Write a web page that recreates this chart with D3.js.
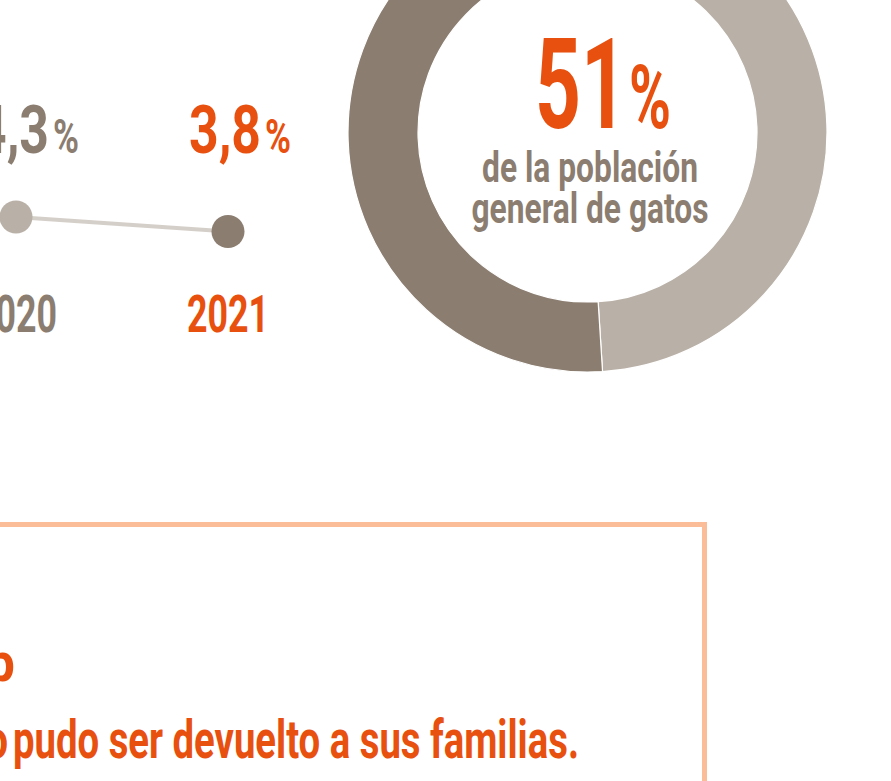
<!DOCTYPE html>
<html>
<head>
<meta charset="utf-8">
<script src="https://cdn.jsdelivr.net/npm/d3@7"></script>
<style>
  html, body { margin: 0; padding: 0; background: #fff; overflow: hidden; }
  svg { display: block; font-family: Roboto, "DejaVu Sans", sans-serif; }
</style>
</head>
<body>
<svg id="viewer" width="891" height="781"></svg>
<script>
// data
var years = [2020, 2021];
var rates = [4.3, 3.8];
var shareLabels = ['resto', 'gatos'];
var shareValues = [49, 51];
var headline = '51';
var subtitle = ['de la población', 'general de gatos'];
var boxLines = ['microchip', 'no', 'pudo ser devuelto a sus familias.'];

var orange = '#e8500f',
    dark = '#8b7d70',
    light = '#b9b0a7',
    lineGrey = '#d5cfc9';

var svg = d3.select('#viewer');

var fmt = d3.formatLocale({ decimal: ',', thousands: '.', grouping: [3], currency: ['', '€'] }).format('.1f');

// small line chart (left)

var scaleX = d3.scaleLinear().domain([2020, 2021]).range([16, 228]);
var scaleY = d3.scaleLinear().domain([3.8, 4.3]).range([231.5, 217]);

var points = years.map((d, i) => ({ year: d, rate: rates[i], last: i == years.length - 1 }));

svg.append('path')
    .datum(points)
    .attr('fill', 'none')
    .attr('stroke', lineGrey)
    .attr('stroke-width', 4)
    .attr('d', d3.line().x(d => scaleX(d.year)).y(d => scaleY(d.rate)));

svg.selectAll('circle.pt')
    .data(points)
    .enter()
    .append('circle')
    .attr('class', 'pt')
    .attr('cx', d => scaleX(d.year))
    .attr('cy', d => scaleY(d.rate))
    .attr('r', 16.5)
    .attr('fill', d => d.last ? dark : light);

// value labels
var vals = svg.selectAll('g.val')
    .data(points)
    .enter()
    .append('g')
    .attr('class', 'val')
    .attr('fill', d => d.last ? orange : dark)
    .attr('font-weight', 700);

vals.append('text')
    .attr('x', d => scaleX(d.year) + 33)
    .attr('y', 153)
    .attr('text-anchor', 'end')
    .attr('font-size', 67)
    .attr('textLength', 72)
    .attr('lengthAdjust', 'spacingAndGlyphs')
    .text(d => fmt(d.rate));

vals.append('text')
    .attr('x', d => scaleX(d.year) + 37)
    .attr('y', 153)
    .attr('font-size', 49)
    .attr('textLength', 26)
    .attr('lengthAdjust', 'spacingAndGlyphs')
    .text('%');

// year labels
svg.selectAll('text.year')
    .data(points)
    .enter()
    .append('text')
    .attr('class', 'year')
    .attr('x', d => scaleX(d.year))
    .attr('y', 332)
    .attr('text-anchor', 'middle')
    .attr('font-size', 52)
    .attr('font-weight', 700)
    .attr('textLength', 82)
    .attr('lengthAdjust', 'spacingAndGlyphs')
    .attr('fill', d => d.last ? orange : dark)
    .text(d => d.year);

// donut (right)

var cx = 587.5, cy = 132.5;

var pie = d3.pie().sort(null).value(d => d.value);
var arc = d3.arc().innerRadius(169.5).outerRadius(239.5);

var donut = svg.append('g').attr('transform', `translate(${cx} ${cy})`);

donut.selectAll('path')
    .data(pie(shareLabels.map((d, i) => ({ name: d, value: shareValues[i] }))))
    .enter()
    .append('path')
    .attr('d', arc)
    .attr('fill', d => d.data.name == 'gatos' ? dark : light)
    .attr('stroke', '#fff')
    .attr('stroke-width', 1.2);

svg.append('text')
    .attr('x', 627)
    .attr('y', 128)
    .attr('text-anchor', 'end')
    .attr('font-size', 127)
    .attr('font-weight', 700)
    .attr('textLength', 92)
    .attr('lengthAdjust', 'spacingAndGlyphs')
    .attr('fill', orange)
    .text(headline);

svg.append('text')
    .attr('x', 629)
    .attr('y', 128)
    .attr('font-size', 89)
    .attr('font-weight', 700)
    .attr('textLength', 42)
    .attr('lengthAdjust', 'spacingAndGlyphs')
    .attr('fill', orange)
    .text('%');

var subWidths = [216, 237];
svg.selectAll('text.sub')
    .data(subtitle)
    .enter()
    .append('text')
    .attr('class', 'sub')
    .attr('x', 590)
    .attr('y', (d, i) => 182 + i * 41)
    .attr('text-anchor', 'middle')
    .attr('font-size', 43)
    .attr('font-weight', 700)
    .attr('textLength', (d, i) => subWidths[i])
    .attr('lengthAdjust', 'spacingAndGlyphs')
    .attr('fill', dark)
    .text(d => d);

// framed note (bottom)

svg.append('rect')
    .attr('x', -20)
    .attr('y', 524.5)
    .attr('width', 724.5)
    .attr('height', 400)
    .attr('fill', 'none')
    .attr('stroke', '#fbbc98')
    .attr('stroke-width', 5);

var note = svg.append('g')
    .attr('fill', orange)
    .attr('font-weight', 700)
    .attr('font-size', 53);

note.append('text')
    .attr('x', 15)
    .attr('y', 681)
    .attr('text-anchor', 'end')
    .attr('textLength', 230)
    .attr('lengthAdjust', 'spacingAndGlyphs')
    .text(boxLines[0]);

note.append('text')
    .attr('x', 8)
    .attr('y', 758)
    .attr('text-anchor', 'end')
    .attr('textLength', 46)
    .attr('lengthAdjust', 'spacingAndGlyphs')
    .text(boxLines[1]);

note.append('text')
    .attr('x', 13)
    .attr('y', 758)
    .attr('textLength', 566)
    .attr('lengthAdjust', 'spacingAndGlyphs')
    .text(boxLines[2]);
</script>
</body>
</html>
